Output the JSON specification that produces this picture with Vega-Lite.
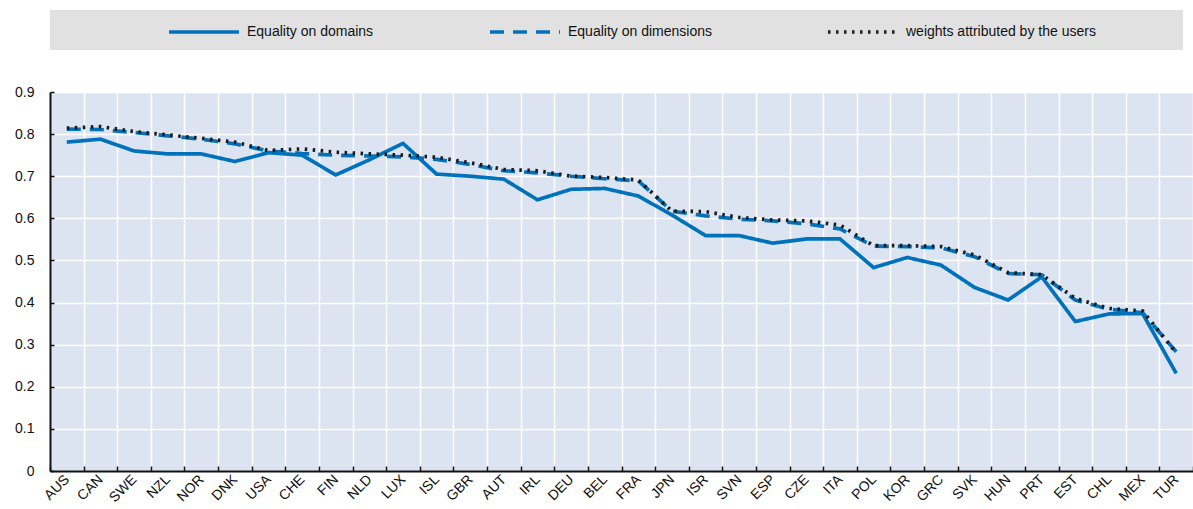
{
  "$schema": "https://vega.github.io/schema/vega-lite/v6.json",
  "padding": {"left": 14, "top": -5, "right": 0, "bottom": 0},
  "background": "white",
  "bounds": "flush",
  "spacing": 42,
  "config": {"font": "Liberation Sans", "view": {"stroke": null}},
  "vconcat": [
    {
      "width": 1133,
      "height": 40,
      "view": {"fill": "#e1e1e1", "stroke": null},
      "data": {"values": [{"a": 1}]},
      "mark": {"type": "point", "opacity": 0},
      "encoding": {}
    },
    {
      "width": 1143,
      "height": 379,
      "view": {"fill": "#dce3f1", "stroke": null},
      "data": {"values": [
        {"country": "AUS", "series": "Equality on domains", "value": 0.781},
        {"country": "CAN", "series": "Equality on domains", "value": 0.788},
        {"country": "SWE", "series": "Equality on domains", "value": 0.760},
        {"country": "NZL", "series": "Equality on domains", "value": 0.753},
        {"country": "NOR", "series": "Equality on domains", "value": 0.753},
        {"country": "DNK", "series": "Equality on domains", "value": 0.735},
        {"country": "USA", "series": "Equality on domains", "value": 0.756},
        {"country": "CHE", "series": "Equality on domains", "value": 0.750},
        {"country": "FIN", "series": "Equality on domains", "value": 0.703},
        {"country": "NLD", "series": "Equality on domains", "value": 0.739},
        {"country": "LUX", "series": "Equality on domains", "value": 0.778},
        {"country": "ISL", "series": "Equality on domains", "value": 0.705},
        {"country": "GBR", "series": "Equality on domains", "value": 0.700},
        {"country": "AUT", "series": "Equality on domains", "value": 0.693},
        {"country": "IRL", "series": "Equality on domains", "value": 0.644},
        {"country": "DEU", "series": "Equality on domains", "value": 0.669},
        {"country": "BEL", "series": "Equality on domains", "value": 0.671},
        {"country": "FRA", "series": "Equality on domains", "value": 0.653},
        {"country": "JPN", "series": "Equality on domains", "value": 0.608},
        {"country": "ISR", "series": "Equality on domains", "value": 0.559},
        {"country": "SVN", "series": "Equality on domains", "value": 0.559},
        {"country": "ESP", "series": "Equality on domains", "value": 0.541},
        {"country": "CZE", "series": "Equality on domains", "value": 0.551},
        {"country": "ITA", "series": "Equality on domains", "value": 0.551},
        {"country": "POL", "series": "Equality on domains", "value": 0.483},
        {"country": "KOR", "series": "Equality on domains", "value": 0.507},
        {"country": "GRC", "series": "Equality on domains", "value": 0.489},
        {"country": "SVK", "series": "Equality on domains", "value": 0.436},
        {"country": "HUN", "series": "Equality on domains", "value": 0.406},
        {"country": "PRT", "series": "Equality on domains", "value": 0.461},
        {"country": "EST", "series": "Equality on domains", "value": 0.355},
        {"country": "CHL", "series": "Equality on domains", "value": 0.373},
        {"country": "MEX", "series": "Equality on domains", "value": 0.374},
        {"country": "TUR", "series": "Equality on domains", "value": 0.232},
        {"country": "AUS", "series": "Equality on dimensions", "value": 0.812},
        {"country": "CAN", "series": "Equality on dimensions", "value": 0.811},
        {"country": "SWE", "series": "Equality on dimensions", "value": 0.804},
        {"country": "NZL", "series": "Equality on dimensions", "value": 0.796},
        {"country": "NOR", "series": "Equality on dimensions", "value": 0.788},
        {"country": "DNK", "series": "Equality on dimensions", "value": 0.777},
        {"country": "USA", "series": "Equality on dimensions", "value": 0.760},
        {"country": "CHE", "series": "Equality on dimensions", "value": 0.754},
        {"country": "FIN", "series": "Equality on dimensions", "value": 0.750},
        {"country": "NLD", "series": "Equality on dimensions", "value": 0.748},
        {"country": "LUX", "series": "Equality on dimensions", "value": 0.746},
        {"country": "ISL", "series": "Equality on dimensions", "value": 0.740},
        {"country": "GBR", "series": "Equality on dimensions", "value": 0.728},
        {"country": "AUT", "series": "Equality on dimensions", "value": 0.713},
        {"country": "IRL", "series": "Equality on dimensions", "value": 0.708},
        {"country": "DEU", "series": "Equality on dimensions", "value": 0.700},
        {"country": "BEL", "series": "Equality on dimensions", "value": 0.694},
        {"country": "FRA", "series": "Equality on dimensions", "value": 0.689},
        {"country": "JPN", "series": "Equality on dimensions", "value": 0.617},
        {"country": "ISR", "series": "Equality on dimensions", "value": 0.606},
        {"country": "SVN", "series": "Equality on dimensions", "value": 0.598},
        {"country": "ESP", "series": "Equality on dimensions", "value": 0.594},
        {"country": "CZE", "series": "Equality on dimensions", "value": 0.587},
        {"country": "ITA", "series": "Equality on dimensions", "value": 0.575},
        {"country": "POL", "series": "Equality on dimensions", "value": 0.534},
        {"country": "KOR", "series": "Equality on dimensions", "value": 0.533},
        {"country": "GRC", "series": "Equality on dimensions", "value": 0.530},
        {"country": "SVK", "series": "Equality on dimensions", "value": 0.509},
        {"country": "HUN", "series": "Equality on dimensions", "value": 0.469},
        {"country": "PRT", "series": "Equality on dimensions", "value": 0.466},
        {"country": "EST", "series": "Equality on dimensions", "value": 0.406},
        {"country": "CHL", "series": "Equality on dimensions", "value": 0.384},
        {"country": "MEX", "series": "Equality on dimensions", "value": 0.376},
        {"country": "TUR", "series": "Equality on dimensions", "value": 0.283},
        {"country": "AUS", "series": "weights attributed by the users", "value": 0.814},
        {"country": "CAN", "series": "weights attributed by the users", "value": 0.818},
        {"country": "SWE", "series": "weights attributed by the users", "value": 0.806},
        {"country": "NZL", "series": "weights attributed by the users", "value": 0.798},
        {"country": "NOR", "series": "weights attributed by the users", "value": 0.790},
        {"country": "DNK", "series": "weights attributed by the users", "value": 0.781},
        {"country": "USA", "series": "weights attributed by the users", "value": 0.761},
        {"country": "CHE", "series": "weights attributed by the users", "value": 0.765},
        {"country": "FIN", "series": "weights attributed by the users", "value": 0.757},
        {"country": "NLD", "series": "weights attributed by the users", "value": 0.753},
        {"country": "LUX", "series": "weights attributed by the users", "value": 0.750},
        {"country": "ISL", "series": "weights attributed by the users", "value": 0.745},
        {"country": "GBR", "series": "weights attributed by the users", "value": 0.732},
        {"country": "AUT", "series": "weights attributed by the users", "value": 0.716},
        {"country": "IRL", "series": "weights attributed by the users", "value": 0.713},
        {"country": "DEU", "series": "weights attributed by the users", "value": 0.700},
        {"country": "BEL", "series": "weights attributed by the users", "value": 0.697},
        {"country": "FRA", "series": "weights attributed by the users", "value": 0.691},
        {"country": "JPN", "series": "weights attributed by the users", "value": 0.617},
        {"country": "ISR", "series": "weights attributed by the users", "value": 0.616},
        {"country": "SVN", "series": "weights attributed by the users", "value": 0.602},
        {"country": "ESP", "series": "weights attributed by the users", "value": 0.596},
        {"country": "CZE", "series": "weights attributed by the users", "value": 0.594},
        {"country": "ITA", "series": "weights attributed by the users", "value": 0.584},
        {"country": "POL", "series": "weights attributed by the users", "value": 0.535},
        {"country": "KOR", "series": "weights attributed by the users", "value": 0.535},
        {"country": "GRC", "series": "weights attributed by the users", "value": 0.533},
        {"country": "SVK", "series": "weights attributed by the users", "value": 0.513},
        {"country": "HUN", "series": "weights attributed by the users", "value": 0.471},
        {"country": "PRT", "series": "weights attributed by the users", "value": 0.466},
        {"country": "EST", "series": "weights attributed by the users", "value": 0.410},
        {"country": "CHL", "series": "weights attributed by the users", "value": 0.386},
        {"country": "MEX", "series": "weights attributed by the users", "value": 0.380},
        {"country": "TUR", "series": "weights attributed by the users", "value": 0.281}
      ]},
      "mark": {"type": "line", "strokeWidth": 3.7},
      "encoding": {
        "x": {
          "field": "country", "type": "nominal",
          "sort": ["AUS","CAN","SWE","NZL","NOR","DNK","USA","CHE","FIN","NLD","LUX","ISL","GBR","AUT","IRL","DEU","BEL","FRA","JPN","ISR","SVN","ESP","CZE","ITA","POL","KOR","GRC","SVK","HUN","PRT","EST","CHL","MEX","TUR"],
          "scale": {"type": "band", "paddingInner": 0, "paddingOuter": 0},
          "bandPosition": 0.5,
          "axis": {
            "title": null, "labelAngle": -45, "labelAlign": "right", "labelBaseline": "middle",
            "labelFontSize": 14, "labelColor": "#111",
            "tickBand": "extent", "grid": true, "gridColor": "white", "gridWidth": 1.5,
            "domainColor": "#111", "domainWidth": 2, "tickColor": "#111", "tickSize": -5, "tickWidth": 1.5,
            "labelPadding": 11
          }
        },
        "y": {
          "field": "value", "type": "quantitative",
          "scale": {"domain": [0, 0.9], "nice": false},
          "axis": {
            "title": null, "values": [0, 0.1, 0.2, 0.3, 0.4, 0.5, 0.6, 0.7, 0.8, 0.9], "format": ".1~f",
            "labelFontSize": 14, "labelColor": "#111",
            "grid": true, "gridColor": "white", "gridWidth": 1.5,
            "domainColor": "#111", "domainWidth": 2, "tickColor": "#111", "tickSize": -4, "tickWidth": 1.5,
            "labelPadding": 20
          }
        },
        "color": {
          "field": "series", "type": "nominal",
          "scale": {"domain": ["Equality on domains", "Equality on dimensions", "weights attributed by the users"], "range": ["#0072bc", "#0072bc", "#1a1a1a"]},
          "legend": {
            "title": null, "orient": "none", "legendX": 117, "legendY": -15, "direction": "horizontal",
            "symbolType": "stroke", "symbolSize": 4900, "symbolStrokeWidth": 3.5, "labelLimit": 400,
            "labelFontSize": 14, "labelColor": "#111", "labelOffset": 6, "columnPadding": 109
          }
        },
        "strokeDash": {
          "field": "series", "type": "nominal",
          "scale": {"domain": ["Equality on domains", "Equality on dimensions", "weights attributed by the users"], "range": [[1, 0], [14, 9], [2.5, 5.5]]},
          "legend": {
            "title": null, "orient": "none", "legendX": 117, "legendY": -15, "direction": "horizontal",
            "symbolType": "stroke", "symbolSize": 4900, "symbolStrokeWidth": 3.5, "labelLimit": 400,
            "labelFontSize": 14, "labelColor": "#111", "labelOffset": 6, "columnPadding": 109
          }
        }
      }
    }
  ]
}
